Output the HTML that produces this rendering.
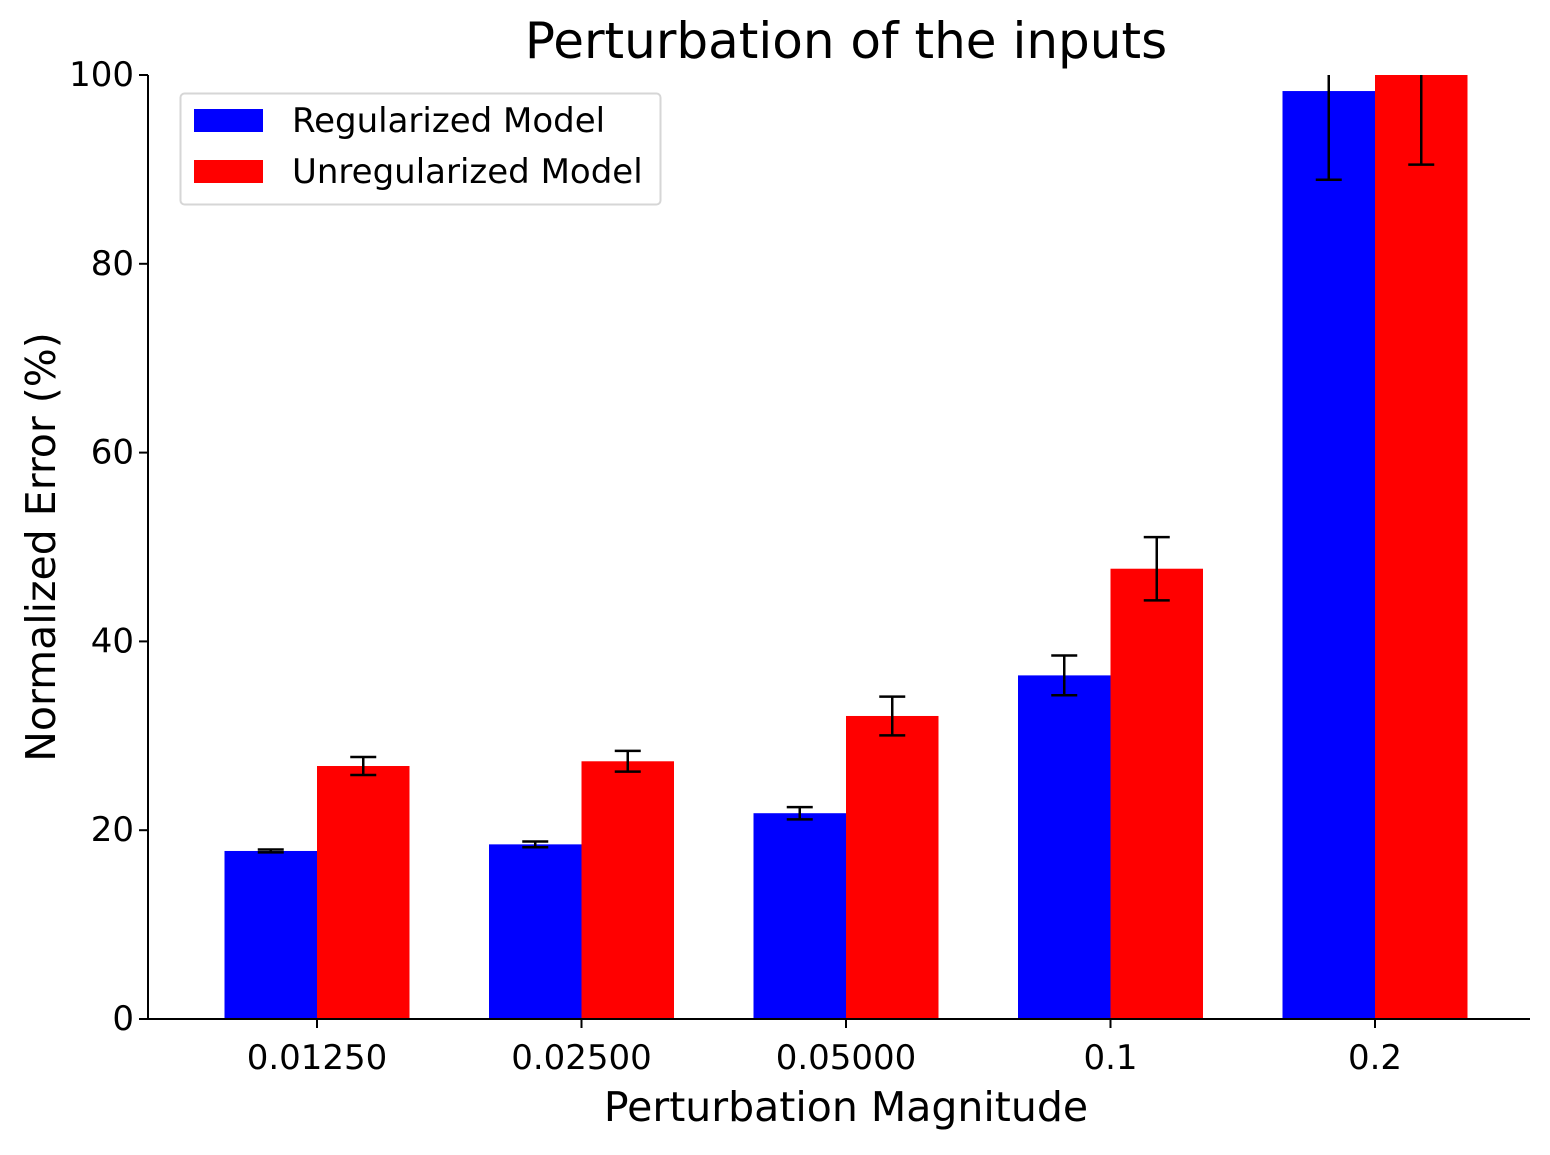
<!DOCTYPE html>
<html><head><meta charset="utf-8"><style>
body{margin:0;background:#fff;}
svg text{font-family:"DejaVu Sans","Liberation Sans",sans-serif;fill:#000;}
</style></head><body>
<svg id="chart" width="1550" height="1150" xmlns="http://www.w3.org/2000/svg">
<defs><clipPath id="pa"><rect x="148" y="75" width="1382" height="944"/></clipPath></defs>
<text x="846" y="58" font-size="50" text-anchor="middle">Perturbation of the inputs</text>
<g id="bars" clip-path="url(#pa)"></g>
<g id="errs" clip-path="url(#pa)"></g>
<g id="axes"></g>
<text x="846" y="1121" font-size="41" text-anchor="middle">Perturbation Magnitude</text>
<text transform="translate(55,547) rotate(-90)" font-size="41" text-anchor="middle">Normalized Error (%)</text>
<g>
<rect x="180.5" y="93.5" width="480" height="111" rx="4" fill="#fff" stroke="#d6d6d6" stroke-width="2"/>
<rect x="194" y="109" width="69" height="23" fill="#0000ff"/>
<text x="292" y="132" font-size="34">Regularized Model</text>
<rect x="194" y="160" width="69" height="23" fill="#ff0000"/>
<text x="292" y="183" font-size="34">Unregularized Model</text>
</g>
</svg>
<script>
const categories=["0.01250","0.02500","0.05000","0.1","0.2"];
const regValues=[17.8,18.5,21.8,36.4,98.3];
const regErrors=[0.15,0.3,0.65,2.1,9.4];
const unregValues=[26.8,27.3,32.1,47.7,100.5];
const unregErrors=[0.95,1.1,2.05,3.35,10];
const yTicks=[0,20,40,60,80,100];
const NS="http://www.w3.org/2000/svg";
const x0=148,x1=1530,yBase=1019,yTop=75;
function yScale(v){return yBase-(v/100)*(yBase-yTop);}
const step=264.5,first=317,bw=92.5;
function xCenter(i){return first+i*step;}
function mk(t,a,p){const e=document.createElementNS(NS,t);for(const k in a)e.setAttribute(k,a[k]);p.appendChild(e);return e;}
const bars=document.getElementById('bars'),errs=document.getElementById('errs'),axes=document.getElementById('axes');
const series=[{v:regValues,e:regErrors,c:"#0000ff",n:"regularized",off:-1},{v:unregValues,e:unregErrors,c:"#ff0000",n:"unregularized",off:0}];
series.forEach(s=>{
  s.v.forEach((v,i)=>{
    const xl=xCenter(i)+s.off*bw;
    const r=mk('rect',{x:xl,y:yScale(v),width:bw,height:yBase-yScale(v),fill:s.c},bars);
    
    
    const cx=xl+bw/2,yt=yScale(v+s.e[i]),yb=yScale(v-s.e[i]);
    const g=mk('g',{stroke:'#000','stroke-width':2.5},errs);
    
    
    mk('line',{x1:cx,x2:cx,y1:yt,y2:yb},g);
    mk('line',{x1:cx-13,x2:cx+13,y1:yt,y2:yt},g);
    mk('line',{x1:cx-13,x2:cx+13,y1:yb,y2:yb},g);
  });
});
const ya=mk('line',{x1:x0,x2:x0,y1:yTop,y2:yBase+0.5,stroke:'#000','stroke-width':2},axes);


const xa=mk('line',{x1:x0-1,x2:x1,y1:yBase,y2:yBase,stroke:'#000','stroke-width':2},axes);


yTicks.forEach(t=>{
  const y=yScale(t);
  mk('line',{x1:x0-9,x2:x0,y1:y,y2:y,stroke:'#000','stroke-width':2},axes);
  const tx=mk('text',{x:x0-14,y:y+11,'font-size':34,'text-anchor':'end'},axes);
  tx.textContent=t;
  
  
});
categories.forEach((c,i)=>{
  const x=xCenter(i);
  mk('line',{x1:x,x2:x,y1:yBase,y2:yBase+9,stroke:'#000','stroke-width':2},axes);
  const tx=mk('text',{x:x,y:yBase+50,'font-size':34,'text-anchor':'middle'},axes);
  tx.textContent=c;
  
  
});
</script>
</body></html>
